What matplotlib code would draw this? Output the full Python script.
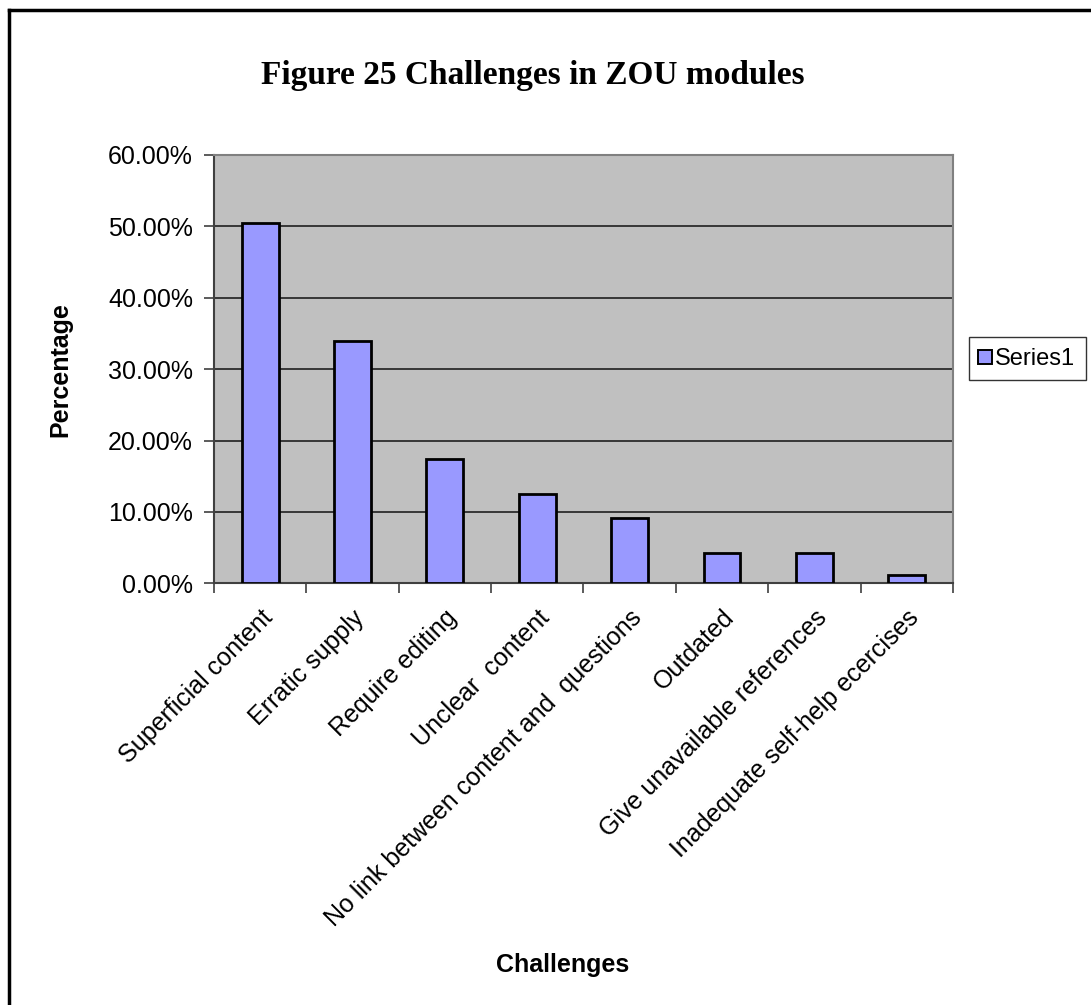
'''Figure 25 - challenges in ZOU modules, bar chart'''
import numpy as np
from matplotlib import pyplot as plt
from matplotlib.lines import Line2D
from matplotlib.ticker import FuncFormatter, FixedLocator


challenges = ['Superficial content', 'Erratic supply', 'Require editing',
              'Unclear  content', 'No link between content and  questions',
              'Outdated', 'Give unavailable references',
              'Inadequate self-help ecercises']
percent = [0.505, 0.340, 0.174, 0.125, 0.092, 0.043, 0.043, 0.011]
y_ticks = [0.0, 0.1, 0.2, 0.3, 0.4, 0.5, 0.6]


def plot():
  plt.rcParams['font.family'] = ['Liberation Sans', 'DejaVu Sans']

  fig = plt.figure(figsize=(10.91, 10.05), dpi=100)
  ax = fig.add_axes([0.196, 0.4196, 0.6775, 0.4262])

  x = np.arange(len(challenges))
  ax.bar(x, percent, width=0.4, color='#9999FF', edgecolor='black',
         linewidth=2, zorder=3, label='Series1')

  # axes look
  ax.set_facecolor('#C0C0C0')
  ax.set_xlim(-0.5, len(challenges) - 0.5)
  ax.set_ylim(0, 0.6)
  ax.yaxis.set_major_locator(FixedLocator(y_ticks))
  ax.yaxis.set_major_formatter(FuncFormatter(lambda v, p: '%.2f%%' % (v * 100)))
  ax.grid(axis='y', color='#202020', linewidth=1.2, zorder=1)
  for s in ['top', 'right']:
    ax.spines[s].set_color('#808080')
    ax.spines[s].set_linewidth(1.5)
  for s in ['left', 'bottom']:
    ax.spines[s].set_color('#404040')
    ax.spines[s].set_linewidth(1.5)

  ax.set_xticks(x)
  ax.set_xticklabels(challenges, rotation=45, ha='right',
                     rotation_mode='anchor', fontsize=18)
  ax.tick_params(axis='x', which='major', length=0, pad=16)
  ax.set_xticks(np.arange(-0.5, len(challenges)), minor=True)
  ax.tick_params(axis='x', which='minor', length=7, width=1.2, color='#404040')
  ax.tick_params(axis='y', labelsize=18, length=7, width=1.2,
                 color='#404040', pad=8)

  ax.set_ylabel('Percentage', fontsize=18, fontweight='bold', labelpad=26)
  fig.text(0.516, 0.04, 'Challenges', fontsize=18, fontweight='bold',
           ha='center', va='center')
  fig.text(0.488, 0.925, 'Figure 25 Challenges in ZOU modules',
           fontsize=24, fontweight='bold', family='Liberation Serif',
           ha='center', va='center')

  handle = Line2D([], [], marker='s', linestyle='none', markersize=10,
                  markerfacecolor='#9999FF', markeredgecolor='black',
                  markeredgewidth=1.4)
  fig.legend([handle], ['Series1'], loc='center left',
             bbox_to_anchor=(0.888, 0.643), fontsize=17, frameon=True,
             fancybox=False, edgecolor='black', handlelength=0.5,
             handletextpad=0.15, borderpad=0.45, borderaxespad=0)

  # outer chart border (left and top visible)
  fig.add_artist(Line2D([0.008, 0.008], [0, 0.99], color='black',
                        linewidth=2.5, transform=fig.transFigure))
  fig.add_artist(Line2D([0.008, 1.0], [0.99, 0.99], color='black',
                        linewidth=2.5, transform=fig.transFigure))

  fig.savefig('out.png', dpi=100)


if __name__ == '__main__':
  plot()
